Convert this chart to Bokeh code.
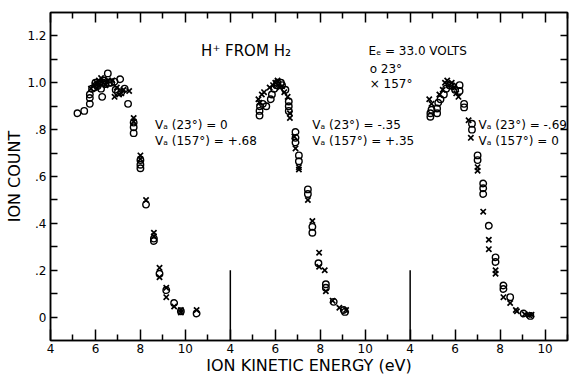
from bokeh.plotting import figure
from bokeh.models import LinearAxis, FixedTicker, Range1d, Label
from bokeh.embed import file_html
from bokeh.resources import INLINE

# ---- data (ion kinetic energy in eV, normalised ion count) ----
# panel 1: Va(23)=0, Va(157)=+.68
p1_o_x = [5.2, 5.5, 5.75, 5.75, 5.75, 5.85, 5.95, 6.0, 6.05, 6.1, 6.2, 6.25, 6.3, 6.35, 6.4,
          6.45, 6.55, 6.6, 6.7, 6.85, 6.9, 7.0, 7.1, 7.15, 7.3, 7.45, 7.7, 7.7, 7.7, 8.0,
          8.0, 8.0, 8.25, 8.6, 8.6, 8.85, 9.15, 9.5, 9.8, 10.5]
p1_o_y = [0.87, 0.88, 0.91, 0.935, 0.95, 0.975, 0.98, 1.0, 0.99, 0.985, 1.0, 0.975, 0.94, 1.0, 1.01,
          0.995, 1.04, 1.0, 1.0, 1.005, 0.97, 0.96, 1.015, 0.96, 0.975, 0.91, 0.83, 0.81, 0.785, 0.67,
          0.65, 0.635, 0.48, 0.335, 0.325, 0.185, 0.115, 0.06, 0.025, 0.015]
p1_x_x = [5.8, 5.95, 6.05, 6.15, 6.25, 6.35, 6.45, 6.55, 6.75, 6.85, 6.95, 7.05, 7.15, 7.25, 7.5,
          7.7, 7.7, 8.0, 8.0, 8.25, 8.6, 8.6, 8.85, 8.85, 9.15, 9.15, 9.5, 9.8, 9.8, 10.5]
p1_x_y = [0.975, 0.99, 1.0, 1.01, 1.02, 1.0, 0.99, 1.01, 1.01, 0.94, 0.98, 0.95, 0.955, 0.97, 0.965,
          0.85, 0.835, 0.69, 0.675, 0.50, 0.36, 0.345, 0.21, 0.17, 0.125, 0.085, 0.045, 0.03, 0.02, 0.03]

# panel 2: Va(23)=-.35, Va(157)=+.35
p2_o_x = [5.3, 5.3, 5.32, 5.45, 5.6, 5.8, 5.85, 5.95, 6.05, 6.1, 6.25, 6.3, 6.45, 6.6, 6.6,
          6.6, 6.9, 6.9, 6.9, 7.05, 7.05, 7.45, 7.45, 7.65, 7.65, 7.92, 8.25, 8.25, 8.6, 9.05, 9.1]
p2_o_y = [0.86, 0.88, 0.90, 0.91, 0.90, 0.93, 0.95, 0.975, 0.99, 1.0, 1.0, 0.99, 0.97, 0.92, 0.90,
          0.88, 0.79, 0.765, 0.745, 0.69, 0.665, 0.545, 0.525, 0.385, 0.36, 0.23, 0.14, 0.125, 0.065, 0.03, 0.022]
p2_x_x = [5.25, 5.3, 5.4, 5.5, 5.75, 5.9, 6.0, 6.1, 6.2, 6.3, 6.4, 6.55, 6.65, 6.65, 6.85,
          6.9, 7.05, 7.05, 7.45, 7.65, 7.95, 7.95, 8.2, 8.25, 8.55, 8.85, 9.15]
p2_x_y = [0.93, 0.915, 0.95, 0.96, 0.98, 0.99, 1.0, 1.01, 0.98, 0.985, 0.96, 0.94, 0.87, 0.85, 0.77,
          0.72, 0.64, 0.63, 0.50, 0.41, 0.275, 0.215, 0.20, 0.11, 0.07, 0.04, 0.03]

# panel 3: Va(23)=-.69, Va(157)=0
p3_o_x = [4.9, 4.9, 4.95, 5.2, 5.2, 5.25, 5.35, 5.5, 5.6, 5.75, 5.9, 6.0, 6.2, 6.2, 6.4,
          6.4, 6.75, 6.75, 7.0, 7.0, 7.25, 7.25, 7.25, 7.5, 7.8, 7.8, 8.15, 8.15, 8.45, 9.05, 9.35]
p3_o_y = [0.87, 0.855, 0.885, 0.87, 0.89, 0.915, 0.93, 0.95, 0.975, 0.99, 0.985, 0.97, 0.99, 0.965, 0.91,
          0.895, 0.825, 0.80, 0.69, 0.67, 0.57, 0.55, 0.525, 0.39, 0.255, 0.235, 0.135, 0.12, 0.085, 0.015, 0.005]
p3_x_x = [4.85, 4.95, 5.3, 5.45, 5.55, 5.65, 5.75, 5.85, 5.95, 6.05, 6.15, 6.6, 6.7, 7.0, 7.0,
          7.25, 7.5, 7.5, 7.8, 7.8, 8.15, 8.45, 8.7, 8.75, 9.1, 9.3, 9.4]
p3_x_y = [0.93, 0.91, 0.95, 0.97, 1.0, 1.01, 0.99, 1.0, 0.98, 0.955, 0.94, 0.84, 0.765, 0.64, 0.625,
          0.45, 0.33, 0.29, 0.20, 0.185, 0.085, 0.06, 0.03, 0.025, 0.012, 0.008, 0.01]

panel_offsets = [0, 8, 16]          # each panel's energy axis runs 4..12 eV
panel_energy_ticks = [4, 6, 8, 10]
panel_energy_minor = [5, 7, 9, 11]
count_ticks = [0.0, 0.2, 0.4, 0.6, 0.8, 1.0, 1.2]
count_tick_labels = ["0", ".2", ".4", ".6", ".8", "1.0", "1.2"]
count_minor = [0.1, 0.3, 0.5, 0.7, 0.9, 1.1]
va_labels = [("Vₐ (23°) = 0", "Vₐ (157°) = +.68"),
             ("Vₐ (23°) = -.35", "Vₐ (157°) = +.35"),
             ("Vₐ (23°) = -.69", "Vₐ (157°) = 0")]

FONT = "DejaVu Sans"

p = figure(width=569, height=377, output_backend="svg", toolbar_location=None,
           x_range=Range1d(4, 27), y_range=Range1d(-0.1, 1.3),
           x_axis_location=None, y_axis_location=None,
           min_border_top=12, min_border_right=2, min_border_left=50, min_border_bottom=20)
p.grid.visible = False
p.outline_line_color = "black"
p.outline_line_width = 1.5
p.background_fill_color = "white"

# x ticks across the three panels
x_major, x_minor, x_over = [], [], {}
for off in panel_offsets:
    for t in panel_energy_ticks:
        x_major.append(t + off)
        x_over[t + off] = str(t)
    for t in panel_energy_minor:
        if t + off <= 27:
            x_minor.append(t + off)
y_over = {t: lab for t, lab in zip(count_ticks, count_tick_labels)}


def style_axis(ax):
    ax.axis_line_width = 1.5
    ax.axis_line_color = "black"
    ax.major_tick_line_width = 1.5
    ax.minor_tick_line_width = 1.5
    ax.major_tick_out = 0
    ax.minor_tick_out = 0
    ax.major_label_text_font = FONT
    ax.major_label_text_font_size = "12px"
    ax.major_label_text_color = "black"
    ax.axis_label_text_font = FONT
    ax.axis_label_text_font_style = "normal"
    ax.axis_label_text_font_size = "16px"
    ax.axis_label_text_color = "black"


xb = LinearAxis(ticker=FixedTicker(ticks=x_major, minor_ticks=x_minor),
                major_label_overrides=x_over, axis_label="ION KINETIC ENERGY (eV)")
style_axis(xb)
xb.major_tick_in = 11
xb.minor_tick_in = 6
xb.major_label_standoff = 3
xb.axis_label_standoff = 0
p.add_layout(xb, "below")

xt = LinearAxis(ticker=FixedTicker(ticks=x_major, minor_ticks=x_minor),
                major_label_overrides={k: "" for k in x_major})
style_axis(xt)
xt.major_tick_in = 10
xt.minor_tick_in = 6
xt.major_label_text_font_size = "0px"
xt.major_label_standoff = 0
p.add_layout(xt, "above")

yl = LinearAxis(ticker=FixedTicker(ticks=count_ticks, minor_ticks=count_minor),
                major_label_overrides=y_over, axis_label="ION COUNT")
style_axis(yl)
yl.major_tick_in = 7
yl.minor_tick_in = 7
yl.major_label_standoff = 4
yl.axis_label_standoff = 0
p.add_layout(yl, "left")

yr = LinearAxis(ticker=FixedTicker(ticks=count_ticks, minor_ticks=count_minor),
                major_label_overrides={k: "" for k in count_ticks})
style_axis(yr)
yr.major_tick_in = 7
yr.minor_tick_in = 7
yr.major_label_text_font_size = "0px"
yr.major_label_standoff = 0
p.add_layout(yr, "right")

# panel separators
breaks = [4 + off for off in panel_offsets[1:]]
p.segment(x0=breaks, y0=[-0.1] * len(breaks), x1=breaks, y1=[0.2] * len(breaks),
          line_color="black", line_width=1.5)

panels = [(p1_o_x, p1_o_y, p1_x_x, p1_x_y),
          (p2_o_x, p2_o_y, p2_x_x, p2_x_y),
          (p3_o_x, p3_o_y, p3_x_x, p3_x_y)]
for off, (ox, oy, xx, xy) in zip(panel_offsets, panels):
    p.scatter([v + off for v in ox], oy, marker="circle", size=6.5,
              fill_color=None, line_color="black", line_width=1.4)
    p.scatter([v + off for v in xx], xy, marker="x", size=7.5,
              line_color="black", line_width=1.7)

# annotations
va_x = [8.65, 7.65, 7.04]
for off, xx, (l1, l2) in zip(panel_offsets, va_x, va_labels):
    for txt, yy in ((l1, 0.818), (l2, 0.752)):
        p.add_layout(Label(x=xx + off, y=yy, text=txt, text_font=FONT, text_font_size="12px",
                           text_baseline="middle", text_align="left", text_color="black"))

p.add_layout(Label(x=10.7, y=1.135, text="H⁺ FROM H₂", text_font=FONT, text_font_size="15px",
                   text_baseline="middle", text_align="left", text_color="black"))
p.add_layout(Label(x=18.15, y=1.135, text="Eₑ = 33.0 VOLTS", text_font=FONT, text_font_size="12px",
                   text_baseline="middle", text_align="left", text_color="black"))
p.add_layout(Label(x=18.2, y=1.058, text="o 23°", text_font=FONT, text_font_size="12px",
                   text_baseline="middle", text_align="left", text_color="black"))
p.add_layout(Label(x=18.2, y=0.994, text="× 157°", text_font=FONT, text_font_size="12px",
                   text_baseline="middle", text_align="left", text_color="black"))

open("out.html", "w").write(file_html(p, INLINE))
